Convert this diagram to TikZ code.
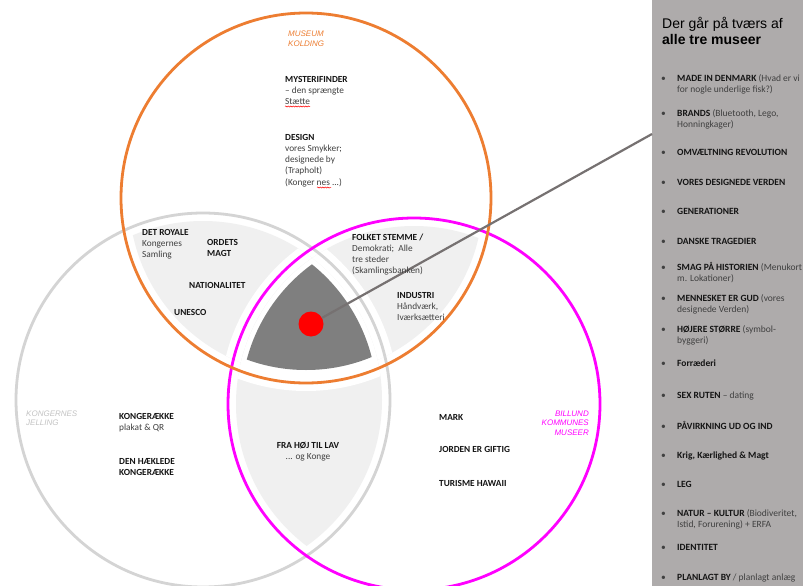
\documentclass[tikz,border=0pt]{standalone}
\usepackage{fontspec}
\setmainfont{Carlito}
\newfontfamily\arialf{Liberation Sans}
\usetikzlibrary{decorations.pathmorphing}
\definecolor{korange}{RGB}{237,125,49}
\definecolor{jgray}{RGB}{212,212,212}
\definecolor{bmag}{RGB}{255,0,255}
\definecolor{lightreg}{RGB}{240,240,240}
\definecolor{darkreg}{RGB}{127,127,127}
\definecolor{panelgray}{RGB}{174,171,171}
\definecolor{connc}{RGB}{118,113,113}
\definecolor{txtdark}{RGB}{20,20,20}
\definecolor{txtgray}{RGB}{64,64,64}
\definecolor{jlabel}{RGB}{195,195,195}
\newcommand\hb[1]{\textbf{\color{txtdark}#1}}
\newcommand\fs{\rule{0pt}{7pt}}
\begin{document}
\begin{tikzpicture}[x=1pt,y=-1pt,
  vt/.style={anchor=north west, align=left, inner sep=0pt, font=\fontsize{9.3}{11.2}\selectfont, text=txtgray},
  lab/.style={inner sep=0pt, font=\arialf\itshape\fontsize{8}{9.5}\selectfont},
  item/.style={anchor=north west, align=left, inner sep=0pt, font=\fontsize{9.5}{11}\selectfont, text=txtgray},
  ring/.style={line width=2.8pt},
  conn/.style={draw=connc, line width=2.2pt},
  squig/.style={draw=red, line width=0.5pt, decorate, decoration={snake, amplitude=0.6pt, segment length=2.5pt}}]
\useasboundingbox (0,0) rectangle (803,586);
\fill[white] (0,0) rectangle (803,586);
\coordinate (cK) at (306,198);
\coordinate (cJ) at (203,400);
\coordinate (cB) at (414,404);
% pair regions
\begin{scope}
  \clip (cK) circle [radius=177pt];
  \clip (cJ) circle [radius=179pt];
  \fill[lightreg] (0,0) rectangle (803,586);
  \fill[white] (cB) circle [radius=194pt];
\end{scope}
\begin{scope}
  \clip (cK) circle [radius=177pt];
  \clip (cB) circle [radius=178pt];
  \fill[lightreg] (0,0) rectangle (803,586);
  \fill[white] (cJ) circle [radius=195pt];
\end{scope}
\begin{scope}
  \clip (cJ) circle [radius=179pt];
  \clip (cB) circle [radius=178pt];
  \fill[lightreg] (0,0) rectangle (803,586);
  \fill[white] (cK) circle [radius=193pt];
\end{scope}
% triple region
\begin{scope}
  \clip (cK) circle [radius=172pt];
  \clip (cJ) circle [radius=174pt];
  \clip (cB) circle [radius=173pt];
  \fill[darkreg] (0,0) rectangle (803,586);
\end{scope}
% rings
\draw[ring, jgray] (cJ) circle [radius=187pt];
\draw[ring, bmag] (cB) circle [radius=186pt];
\draw[ring, korange] (cK) circle [radius=185pt];
% panel
\node[draw=none, fill=panelgray, minimum width=151pt, minimum height=586pt, inner sep=0pt] (panel) at (727.5,293) {};
\coordinate (pe) at (652,134);
\node[circle, fill=red, minimum size=25pt, inner sep=0pt] (dot) at (311,324) {};
\draw[conn] (dot) -- (pe);
% circle labels
\node[lab, anchor=north west, align=left, text=korange] (mk) at (288,29.5) {\fs MUSEUM\\KOLDING};
\node[lab, anchor=north west, align=left, text=jlabel] (jel) at (26,409) {\fs KONGERNES\\JELLING};
\node[lab, anchor=north east, align=right, text=bmag] (bil) at (589,409) {\fs BILLUND\\KOMMUNES\\MUSEER};
% Venn texts
\node[vt] (myst) at (285,75) {\fs\hb{MYSTERIFINDER}\\– den sprængte\\Stætte};
\node[vt] (design) at (285,133) {\fs\hb{DESIGN}\\vores Smykker;\\designede by\\(Trapholt)\\(Konger nes ...)};
\node[vt] (royale) at (142,228) {\fs\hb{DET ROYALE}\\Kongernes\\Samling};
\node[vt] (ordets) at (207,238) {\fs\hb{ORDETS}\\\hb{MAGT}};
\node[vt] (nation) at (189,281) {\fs\hb{NATIONALITET}};
\node[vt] (unesco) at (174,308) {\fs\hb{UNESCO}};
\node[vt] (folket) at (352,233) {\fs\hb{FOLKET STEMME /}\\Demokrati;\ \ Alle\\tre steder\\(Skamlingsbanken)};
\node[vt] (industri) at (397,291) {\fs\hb{INDUSTRI}\\Håndværk,\\Iværksætteri};
\node[vt] (kraekke) at (119,412) {\fs\hb{KONGERÆKKE}\\plakat \& QR};
\node[vt] (haekl) at (119,457) {\fs\hb{DEN HÆKLEDE}\\\hb{KONGERÆKKE}};
\node[vt, anchor=north, align=center] (fra) at (308,441) {\fs\hb{FRA HØJ TIL LAV}\\... og Konge};
\node[vt] (mark) at (439,413) {\fs\hb{MARK}};
\node[vt] (jorden) at (439,445) {\fs\hb{JORDEN ER GIFTIG}};
\node[vt] (turisme) at (439,479) {\fs\hb{TURISME HAWAII}};
% spelling marks
\draw[squig] (285,106.5) -- (310,106.5);
\draw[squig] (317,187.5) -- (331,187.5);
% panel texts
\node[anchor=north west, align=left, inner sep=0pt, font=\arialf\fontsize{14}{16}\selectfont, text=black] (title) at (662,17) {\rule{0pt}{11pt}Der går på tværs af\\\textbf{alle tre museer}};
\node[item] (i1) at (661,74) {\fs\makebox[16pt][l]{•}\hb{MADE IN DENMARK} (Hvad er vi\\\hspace*{16pt}for nogle underlige fisk?)};
\node[item] (i2) at (661,109) {\fs\makebox[16pt][l]{•}\hb{BRANDS} (Bluetooth, Lego,\\\hspace*{16pt}Honningkager)};
\node[item] (i3) at (661,148) {\fs\makebox[16pt][l]{•}\hb{OMVÆLTNING REVOLUTION}};
\node[item] (i4) at (661,178) {\fs\makebox[16pt][l]{•}\hb{VORES DESIGNEDE VERDEN}};
\node[item] (i5) at (661,207) {\fs\makebox[16pt][l]{•}\hb{GENERATIONER}};
\node[item] (i6) at (661,237) {\fs\makebox[16pt][l]{•}\hb{DANSKE TRAGEDIER}};
\node[item] (i7) at (661,262) {\fs\makebox[16pt][l]{•}\hb{SMAG PÅ HISTORIEN} (Menukort\\\hspace*{16pt}m. Lokationer)};
\node[item] (i8) at (661,294) {\fs\makebox[16pt][l]{•}\hb{MENNESKET ER GUD} (vores\\\hspace*{16pt}designede Verden)};
\node[item] (i9) at (661,325) {\fs\makebox[16pt][l]{•}\hb{HØJERE STØRRE} (symbol-\\\hspace*{16pt}byggeri)};
\node[item] (i10) at (661,359) {\fs\makebox[16pt][l]{•}\hb{Forræderi}};
\node[item] (i11) at (661,391) {\fs\makebox[16pt][l]{•}\hb{SEX RUTEN} – dating};
\node[item] (i12) at (661,421) {\fs\makebox[16pt][l]{•}\hb{PÅVIRKNING UD OG IND}};
\node[item] (i13) at (661,451) {\fs\makebox[16pt][l]{•}\hb{Krig, Kærlighed \& Magt}};
\node[item] (i14) at (661,480) {\fs\makebox[16pt][l]{•}\hb{LEG}};
\node[item] (i15) at (661,509) {\fs\makebox[16pt][l]{•}\hb{NATUR – KULTUR} (Biodiveritet,\\\hspace*{16pt}Istid, Forurening) + ERFA};
\node[item] (i16) at (661,543) {\fs\makebox[16pt][l]{•}\hb{IDENTITET}};
\node[item] (i17) at (661,573) {\fs\makebox[16pt][l]{•}\hb{PLANLAGT BY} / planlagt anlæg};
\end{tikzpicture}
\end{document}
